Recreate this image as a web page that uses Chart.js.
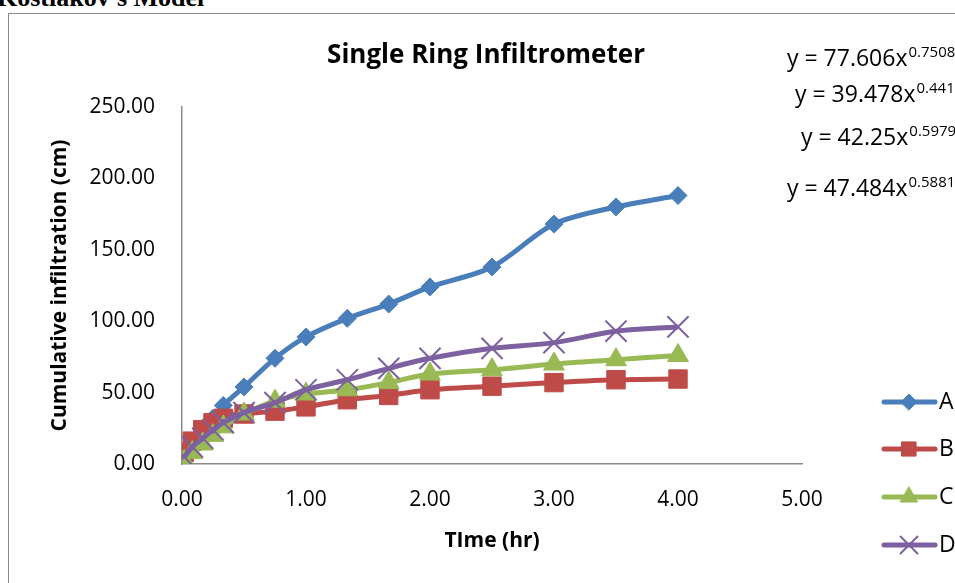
<!DOCTYPE html>
<html>
<head>
<meta charset="utf-8">
<script src="https://cdn.jsdelivr.net/npm/chart.js@4.4.1/dist/chart.umd.min.js"></script>
<style>
  html, body { margin: 0; padding: 0; background: #fff; overflow: hidden; }
  #wrap { position: relative; width: 955px; height: 583px; overflow: hidden; }
  #heading { position: absolute; left: -3px; top: -17px; font: bold 26px "Liberation Serif"; color: #000; white-space: nowrap; }
  #frame { position: absolute; left: 8px; top: 13px; width: 1000px; height: 600px; border: 1.5px solid #8a8a8a; }
  canvas { position: absolute; left: 0; top: 0; }
</style>
</head>
<body>
<div id="wrap">
  <div id="heading">Kostiakov's Model</div>
  <div id="frame"></div>
  <canvas id="chart" width="955" height="583"></canvas>
</div>
<script>
// time in hours
const times = [0.017, 0.083, 0.167, 0.25, 0.333, 0.5, 0.75, 1, 1.333, 1.667, 2, 2.5, 3, 3.5, 4];
const seriesA = [4, 12, 22, 32, 41, 54, 74, 89, 102, 112, 124, 138, 168, 180, 188];
const seriesB = [8, 16, 24, 29, 32, 35, 37, 40, 45, 48, 52, 54.5, 57, 59, 59.5];
const seriesC = [2, 8, 14, 20, 26, 35, 44, 49, 52, 57, 63, 66, 70, 73, 76];
const seriesD = [5, 12, 18, 24, 29, 36, 43, 52, 59, 67, 74, 81, 85, 93, 96];
const seriesNames = ["A", "B", "C", "D"];
const colors = ["#4A7EBB", "#BE4B48", "#98B954", "#7D60A0"];
const styles = ["rectRot", "rect", "triangle", "crossRot"];
const radii = [9, 13, 12, 15];
const equations = [
  ["y = 77.606x", "0.7508"],
  ["y = 39.478x", "0.441"],
  ["y = 42.25x", "0.5979"],
  ["y = 47.484x", "0.5881"]
];

const FONT = '"Open Sans", sans-serif';
const allSeries = [seriesA, seriesB, seriesC, seriesD];

const toPoints = (vals) => vals.map((v, i) => ({ x: times[i], y: v }));

const datasets = allSeries.map((vals, i) => ({
  label: seriesNames[i],
  data: toPoints(vals),
  borderColor: colors[i],
  backgroundColor: colors[i],
  borderWidth: 5,
  tension: 0.3,
  pointStyle: styles[i],
  pointRadius: radii[i],
  pointBorderWidth: i === 3 ? 2 : 1,
  pointBorderColor: colors[i],
  pointBackgroundColor: colors[i],
  order: 4 - i
}));

// title, trendline equations and legend drawn on top
const extras = {
  id: "extras",
  afterDraw(chart) {
    const ctx = chart.ctx;
    ctx.save();
    ctx.fillStyle = "#000";
    ctx.textBaseline = "middle";
    ctx.textAlign = "center";
    ctx.font = "bold 26px " + FONT;
    ctx.fillText("Single Ring Infiltrometer", 486, 56);

    // equations
    const eqX = [787, 795, 801, 787];
    const eqY = [66, 102, 145, 196];
    ctx.textAlign = "left";
    ctx.textBaseline = "alphabetic";
    equations.forEach((eq, i) => {
      ctx.font = "23px " + FONT;
      ctx.fillText(eq[0], eqX[i], eqY[i]);
      const w = ctx.measureText(eq[0]).width;
      ctx.font = "15px " + FONT;
      ctx.fillText(eq[1], eqX[i] + w + 1, eqY[i] - 9);
    });

    // legend
    const legY = [402, 449, 497, 545];
    const legR = [8, 10, 10, 12];
    seriesNames.forEach((name, i) => {
      ctx.strokeStyle = colors[i];
      ctx.lineWidth = 5;
      ctx.lineCap = "round";
      ctx.beginPath();
      ctx.moveTo(884, legY[i]);
      ctx.lineTo(935, legY[i]);
      ctx.stroke();
      ctx.fillStyle = colors[i];
      ctx.lineWidth = i === 3 ? 2 : 1;
      Chart.helpers.drawPoint(ctx, { pointStyle: styles[i], radius: legR[i], rotation: 0, borderWidth: i === 3 ? 2 : 1 }, 909, legY[i]);
      ctx.fillStyle = "#000";
      ctx.font = "23px " + FONT;
      ctx.textBaseline = "middle";
      ctx.fillText(name, 939, legY[i]);
    });
    ctx.restore();
  }
};

new Chart(document.getElementById("chart"), {
  type: "line",
  data: { datasets: datasets },
  plugins: [extras],
  options: {
    responsive: false,
    animation: false,
    layout: { padding: { top: 107, left: 0, right: 153, bottom: 0 } },
    plugins: {
      legend: { display: false },
      tooltip: { enabled: false },
      title: { display: false }
    },
    scales: {
      x: {
        type: "linear",
        min: 0,
        max: 5,
        afterFit: (scale) => { scale.height = 119; },
        ticks: {
          stepSize: 1,
          padding: 23,
          color: "#000",
          font: { family: FONT, size: 21 },
          callback: (v) => v.toFixed(2)
        },
        grid: { display: false, drawTicks: false },
        border: { display: true, color: "#8a8a8a", width: 1.5 },
        title: {
          display: true,
          text: "TIme (hr)",
          color: "#000",
          font: { family: FONT, size: 21, weight: "bold" },
          padding: { top: 0, bottom: 29 }
        }
      },
      y: {
        min: 0,
        max: 250,
        afterFit: (scale) => { scale.width = 182; },
        ticks: {
          stepSize: 50,
          padding: 27,
          color: "#000",
          font: { family: FONT, size: 21 },
          callback: (v) => v.toFixed(2)
        },
        grid: { display: false, drawTicks: false },
        border: { display: true, color: "#8a8a8a", width: 1.5 },
        title: {
          display: true,
          text: "Cumulative infiltration (cm)",
          color: "#000",
          font: { family: FONT, size: 21, weight: "bold" },
          padding: { top: 47, bottom: 0 }
        }
      }
    }
  }
});
</script>
</body>
</html>
